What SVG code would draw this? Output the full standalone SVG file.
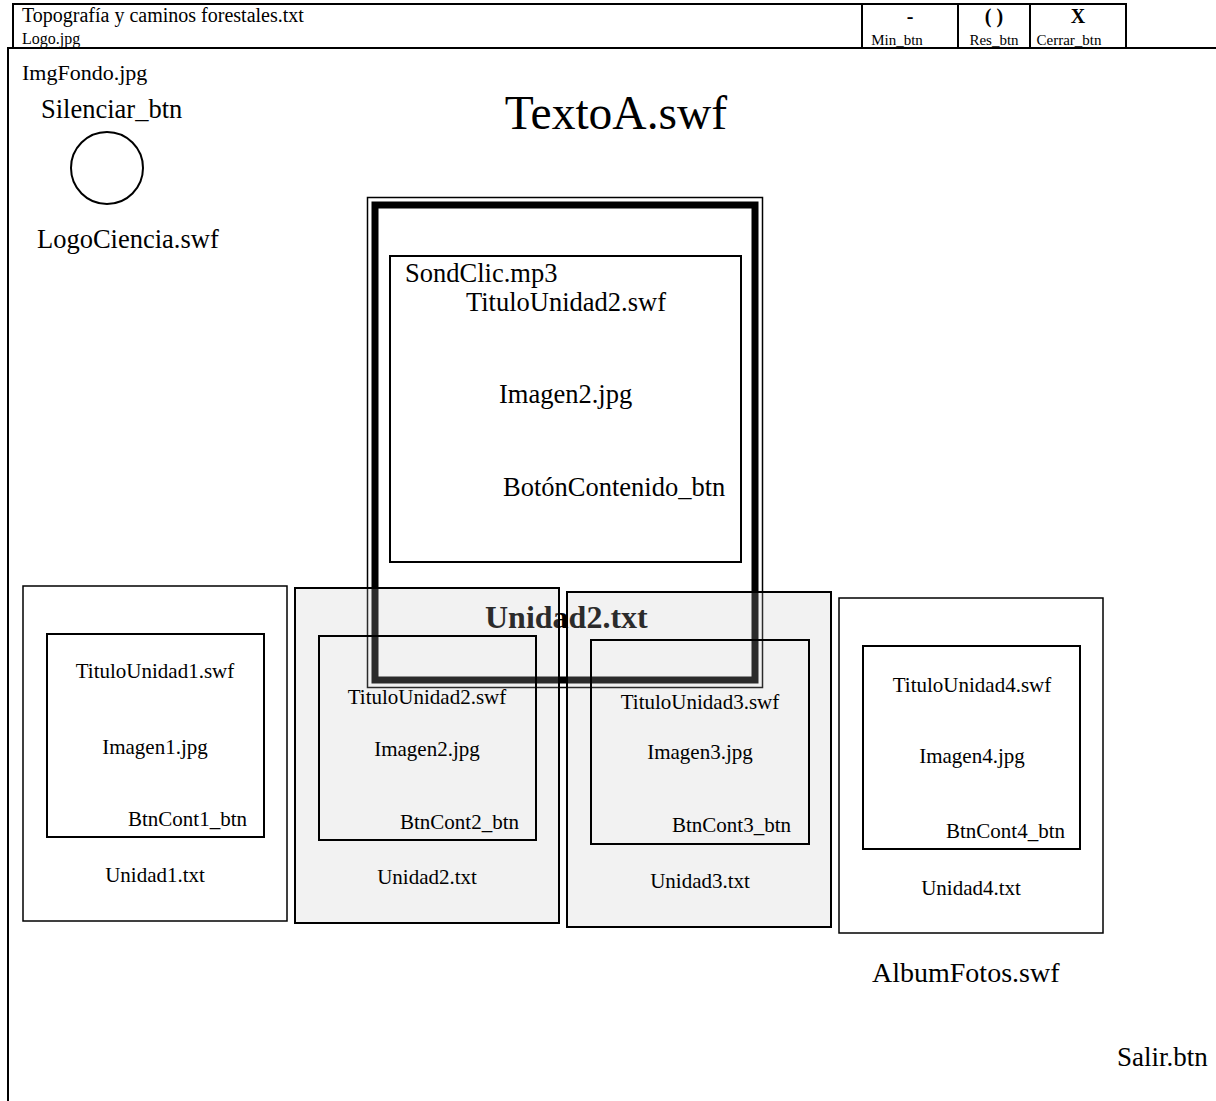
<svg xmlns="http://www.w3.org/2000/svg" width="1216" height="1101" viewBox="0 0 1216 1101">
<style>
text{font-family:"Liberation Serif","Times New Roman",serif;fill:#000}
.t18{font-size:21px}
.t22{font-size:26.5px}
.c{text-anchor:middle}
.ln{fill:none;stroke:#000;stroke-width:2}
.box{fill:#fff;stroke:#000;stroke-width:1.5}
.gbox{fill:#c2c2c2;fill-opacity:0.22;stroke:#000;stroke-width:2}
.inner{fill:none;stroke:#000;stroke-width:2}
</style>
<rect width="1216" height="1101" fill="#fff"/>
<g id="titlebar">
<rect x="13" y="4" width="1113" height="44" class="ln"/>
<line x1="862" y1="4" x2="862" y2="48" class="ln"/>
<line x1="958" y1="4" x2="958" y2="48" class="ln"/>
<line x1="1030" y1="4" x2="1030" y2="48" class="ln"/>
<text x="22" y="22" style="font-size:20px">Topografía y caminos forestales.txt</text>
<text x="22" y="44" style="font-size:16px">Logo.jpg</text>
<text x="910" y="23" class="c" style="font-size:20px;font-weight:bold">-</text>
<text x="897" y="45" class="c" style="font-size:15px">Min_btn</text>
<text x="994" y="23" class="c" style="font-size:20px;font-weight:bold">( )</text>
<text x="994" y="45" class="c" style="font-size:15px">Res_btn</text>
<text x="1078" y="23" class="c" style="font-size:20px;font-weight:bold">X</text>
<text x="1069" y="45" class="c" style="font-size:15px">Cerrar_btn</text>
</g>
<g id="mainframe">
<polyline points="8,1101 8,48 1216,48" class="ln"/>
<text x="22" y="80" style="font-size:22px">ImgFondo.jpg</text>
<text x="1117" y="1066" style="font-size:27px">Salir.btn</text>
</g>
<g id="silenciar">
<text x="41" y="118" class="t22">Silenciar_btn</text>
<circle cx="107" cy="168" r="36" fill="none" stroke="#000" stroke-width="2"/>
<text x="37" y="248" class="t22">LogoCiencia.swf</text>
</g>
<g id="textoA">
<text x="616" y="129" class="c" style="font-size:47.5px">TextoA.swf</text>
</g>
<g id="unidad2-frame">
<rect x="367.5" y="197.5" width="395" height="490" fill="none" stroke="#000" stroke-width="1.5"/>
<rect x="375" y="205" width="380" height="475" fill="none" stroke="#000" stroke-width="7"/>
<text x="485" y="628" style="font-size:32px;font-weight:bold">Unidad2.txt</text>
</g>
<g id="contenido">
<rect x="390" y="256" width="351" height="306" class="inner"/>
<text x="405" y="282" class="t22">SondClic.mp3</text>
<text x="466" y="311" class="t22">TituloUnidad2.swf</text>
<text x="499" y="403" class="t22">Imagen2.jpg</text>
<text x="503" y="496" class="t22">BotónContenido_btn</text>
</g>
<g id="unidad1">
<rect x="23" y="586" width="264" height="335" class="box"/>
<rect x="47" y="634" width="217" height="203" class="inner"/>
<text x="155" y="678" class="c t18">TituloUnidad1.swf</text>
<text x="155" y="754" class="c t18">Imagen1.jpg</text>
<text x="128" y="826" class="t18">BtnCont1_btn</text>
<text x="155" y="882" class="c t18">Unidad1.txt</text>
</g>
<g id="unidad2">
<rect x="295" y="588" width="264" height="335" class="gbox"/>
<rect x="319" y="636" width="217" height="204" class="inner"/>
<text x="427" y="704" class="c t18">TituloUnidad2.swf</text>
<text x="427" y="756" class="c t18">Imagen2.jpg</text>
<text x="400" y="829" class="t18">BtnCont2_btn</text>
<text x="427" y="884" class="c t18">Unidad2.txt</text>
</g>
<g id="unidad3">
<rect x="567" y="592" width="264" height="335" class="gbox"/>
<rect x="591" y="640" width="218" height="204" class="inner"/>
<text x="700" y="709" class="c t18">TituloUnidad3.swf</text>
<text x="700" y="759" class="c t18">Imagen3.jpg</text>
<text x="672" y="832" class="t18">BtnCont3_btn</text>
<text x="700" y="888" class="c t18">Unidad3.txt</text>
</g>
<g id="unidad4">
<rect x="839" y="598" width="264" height="335" class="box"/>
<rect x="863" y="646" width="217" height="203" class="inner"/>
<text x="972" y="692" class="c t18">TituloUnidad4.swf</text>
<text x="972" y="763" class="c t18">Imagen4.jpg</text>
<text x="946" y="838" class="t18">BtnCont4_btn</text>
<text x="971" y="895" class="c t18">Unidad4.txt</text>
</g>
<g id="albumfotos">
<text x="872" y="982" style="font-size:28px">AlbumFotos.swf</text>
</g>
<g id="connectors"></g>
</svg>
